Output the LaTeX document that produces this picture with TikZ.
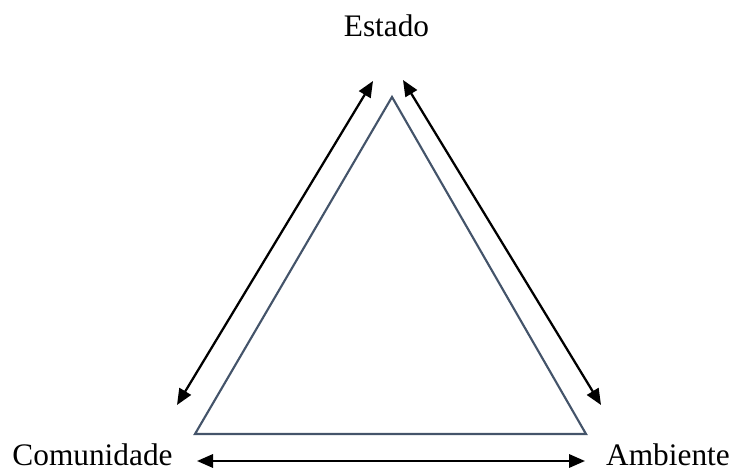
\documentclass[tikz,border=0pt]{standalone}
\usepackage{fontspec}
\setmainfont{Liberation Serif}
\usetikzlibrary{arrows.meta}
\definecolor{edgegray}{HTML}{44546A}

\begin{document}
\begin{tikzpicture}[x=0.75pt, y=-0.75pt,
    every node/.style={font=\fontsize{23.5}{28}\selectfont, inner sep=0pt},
    link/.style={black, line width=1.7pt,
      {Triangle[length=12pt, width=10pt]}-{Triangle[length=12pt, width=10pt]}}]
  \useasboundingbox (0,0) rectangle (732,470);
  % triangle
  \coordinate (apex) at (392,97);
  \coordinate (left) at (195,434);
  \coordinate (right) at (586,434);
  \draw[edgegray, line width=1.6pt] (apex) -- (left) -- (right) -- cycle;
  % labels
  \node[anchor=base] (estado) at (386.5,37) {Estado};
  \node[anchor=base] (comunidade) at (92.5,465) {Comunidade};
  \node[anchor=base] (ambiente) at (668,465) {Ambiente};
  % arrow ends
  \coordinate (estL) at (373,81);
  \coordinate (comT) at (177,405);
  \coordinate (estR) at (403,80);
  \coordinate (ambT) at (601,405);
  \coordinate (comR) at (197,461);
  \coordinate (ambL) at (585,461);
  \draw[link] (estL) -- (comT);
  \draw[link] (estR) -- (ambT);
  \draw[link] (comR) -- (ambL);
\end{tikzpicture}
\end{document}
